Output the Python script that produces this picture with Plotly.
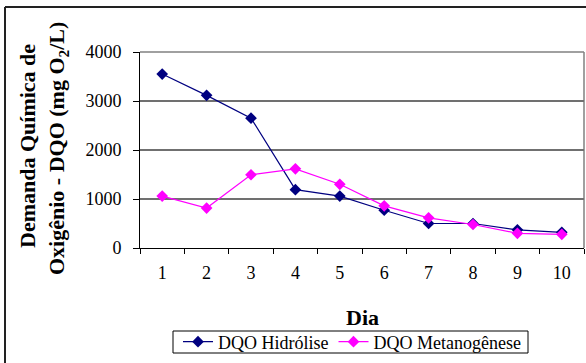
import plotly.graph_objects as go

# Dados: DQO ao longo dos dias
dias = ["1", "2", "3", "4", "5", "6", "7", "8", "9", "10"]
dqo_hidrolise = [3550, 3115, 2650, 1190, 1060, 770, 500, 500, 370, 320]
dqo_metanogenese = [1060, 815, 1495, 1615, 1300, 860, 615, 480, 300, 280]

W, H = 586, 363
ML, MR, MT, MB = 140, 2, 52, 115
PW = W - ML - MR
PH = H - MT - MB


def px_x(p):
    return (p - ML) / PW


def px_y(p):
    return (H - MB - p) / PH


font_family = "Liberation Serif"

fig = go.Figure()
fig.add_trace(go.Scatter(
    x=dias, y=dqo_hidrolise, name="DQO Hidrólise",
    mode="lines+markers",
    line=dict(color="#000080", width=1.2),
    marker=dict(symbol="diamond", size=9, color="#000080"),
))
fig.add_trace(go.Scatter(
    x=dias, y=dqo_metanogenese, name="DQO Metanogênese",
    mode="lines+markers",
    line=dict(color="#FF00FF", width=1.2),
    marker=dict(symbol="diamond", size=9, color="#FF00FF"),
))

fig.update_layout(
    width=W, height=H,
    margin=dict(l=ML, r=MR, t=MT, b=MB, pad=0, autoexpand=False),
    paper_bgcolor="white", plot_bgcolor="white",
    font=dict(family=font_family, size=18, color="black"),
    showlegend=True,
    legend=dict(
        orientation="h", x=px_x(352), xanchor="center",
        y=px_y(342), yanchor="middle",
        borderwidth=0, bgcolor="rgba(0,0,0,0)",
        font=dict(size=18, family=font_family), itemwidth=30,
        tracegroupgap=0,
    ),
    xaxis=dict(
        type="category", range=[-0.5, 9.5],
        showgrid=False, showline=True, linecolor="black", linewidth=1,
        ticks="outside", ticklen=5, tickcolor="black",
        tickson="boundaries", tickfont=dict(size=18, family=font_family),
        ticklabelstandoff=8, zeroline=False,
    ),
    yaxis=dict(
        range=[0, 4000], dtick=1000,
        showgrid=True, gridcolor="#707070", gridwidth=1.5,
        showline=True, linecolor="black", linewidth=1,
        ticks="outside", ticklen=6, tickcolor="black",
        tickfont=dict(size=18, family=font_family),
        ticklabelstandoff=8, zeroline=False,
    ),
)

# Moldura da área de plotagem (topo e lado direito em cinza)
fig.add_shape(type="line", xref="paper", yref="paper", x0=0, x1=1, y0=1, y1=1,
              line=dict(color="#808080", width=1.5), layer="below")
fig.add_shape(type="line", xref="paper", yref="paper", x0=1, x1=1, y0=0, y1=1,
              line=dict(color="#808080", width=1.5), layer="below")

# Moldura externa do gráfico (bordas superior e esquerda visíveis)
fig.add_shape(type="line", xref="paper", yref="paper",
              x0=px_x(5), x1=px_x(W), y0=px_y(7), y1=px_y(7),
              line=dict(color="#222222", width=2), layer="below")
fig.add_shape(type="line", xref="paper", yref="paper",
              x0=px_x(5), x1=px_x(5), y0=px_y(7), y1=px_y(H),
              line=dict(color="#222222", width=2), layer="below")

# Caixa da legenda
fig.add_shape(type="rect", xref="paper", yref="paper",
              x0=px_x(173), x1=px_x(528), y0=px_y(353), y1=px_y(331),
              line=dict(color="black", width=1), layer="below")

# Título do eixo Y (duas linhas)
fig.add_annotation(
    text="<b>Demanda Química de</b>",
    xref="paper", yref="paper", x=px_x(27), y=px_y(146),
    xanchor="center", yanchor="middle", textangle=-90, showarrow=False,
    font=dict(size=22, family=font_family, color="black"),
)
fig.add_annotation(
    text="<b>Oxigênio - DQO (mg O<sub>2</sub>/L)</b>",
    xref="paper", yref="paper", x=px_x(58), y=px_y(149),
    xanchor="center", yanchor="middle", textangle=-90, showarrow=False,
    font=dict(size=22, family=font_family, color="black"),
)

# Título do eixo X
fig.add_annotation(
    text="<b>Dia</b>", xref="paper", yref="paper",
    x=px_x(362), y=px_y(317), xanchor="center", yanchor="middle",
    showarrow=False, font=dict(size=22, family=font_family, color="black"),
)

fig.write_html("out.html")
